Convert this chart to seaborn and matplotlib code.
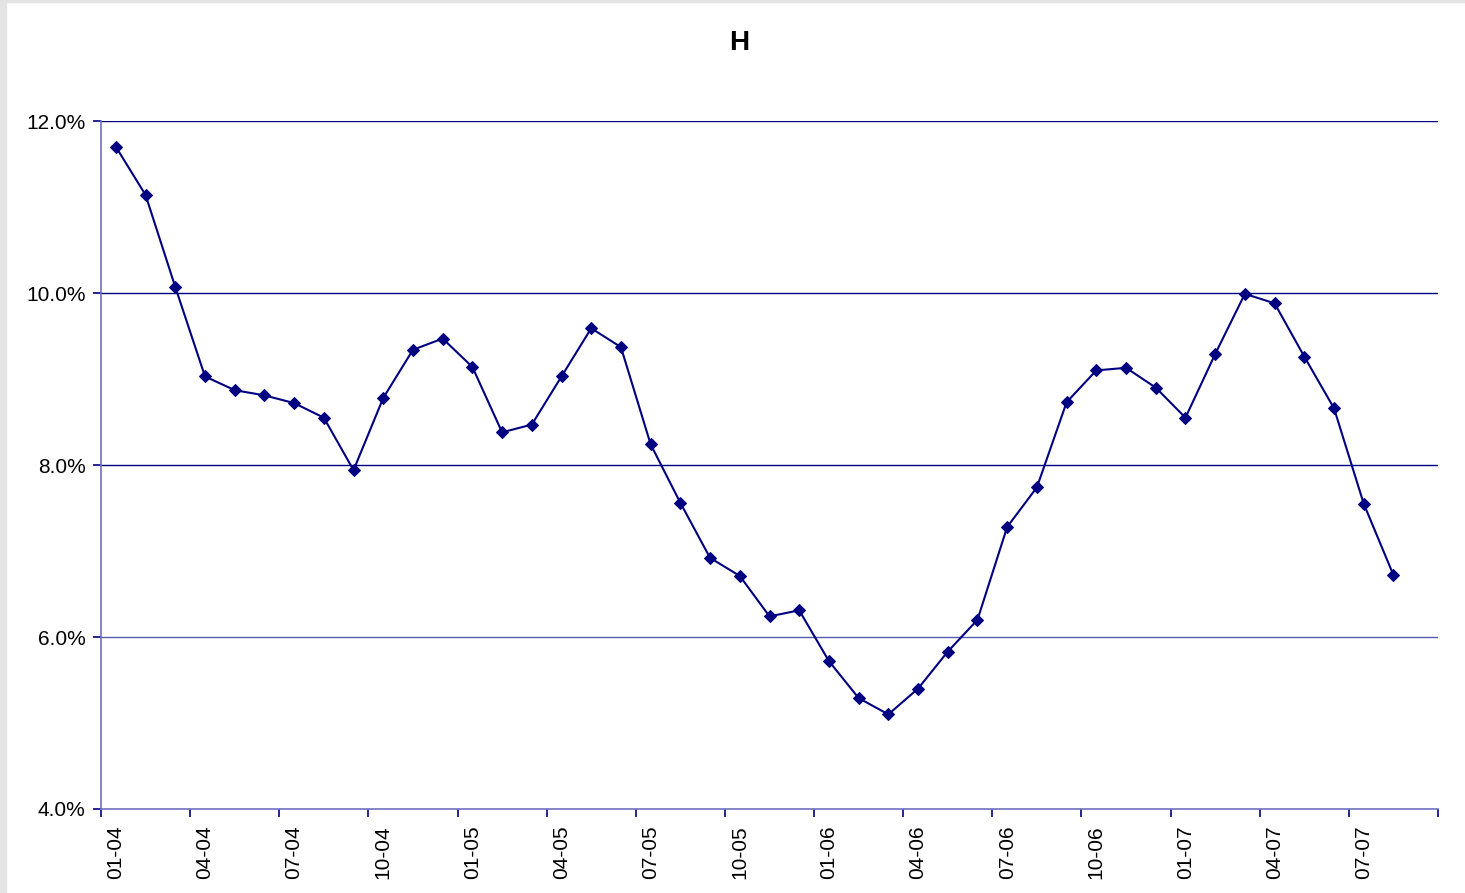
import numpy as np
import pandas as pd
import matplotlib
matplotlib.use("Agg")
import matplotlib.pyplot as plt
from matplotlib.ticker import FixedLocator, PercentFormatter
import seaborn as sns

sns.set_style("white", {"xtick.bottom": True, "ytick.left": True,
                        "text.color": "black", "xtick.color": "black",
                        "ytick.color": "black"})
plt.rcParams['font.family'] = ['Liberation Sans', 'DejaVu Sans']

# monthly values, 01-04 .. 08-07 (axis runs to 09-07)
months = [f"{m:02d}-{y:02d}" for y in (4, 5, 6, 7) for m in range(1, 13)][:45]
values = [11.70, 11.14, 10.07, 9.03, 8.87, 8.81, 8.72, 8.55, 7.94, 8.78,
          9.34, 9.47, 9.14, 8.38, 8.47, 9.03, 9.59, 9.37, 8.24, 7.56,
          6.92, 6.71, 6.24, 6.31, 5.72, 5.29, 5.10, 5.40, 5.83, 6.20,
          7.28, 7.74, 8.73, 9.10, 9.13, 8.90, 8.55, 9.29, 9.99, 9.88,
          9.26, 8.66, 7.55, 6.72]

df = pd.DataFrame({"pos": np.arange(len(values)), "rate": values})

navy = "#000080"
axis_col = "#6f6fc0"

fig = plt.figure(figsize=(14.65, 8.93), dpi=100)
fig.patches.append(plt.Rectangle((0, 0), 6 / 1465, 1, transform=fig.transFigure,
                                 color="#e4e4e4", zorder=0))
fig.patches.append(plt.Rectangle((0, 1 - 2 / 893), 1, 2 / 893, transform=fig.transFigure,
                                 color="#e4e4e4", zorder=0))
ax = fig.add_axes([101 / 1465, 1 - 809 / 893, (1438 - 101) / 1465, (809 - 121) / 893])

for yv in (6, 8, 10, 12):
    ax.axhline(yv, color=navy if yv != 6 else "#5a5ab4", lw=1.0, zorder=1)

sns.lineplot(data=df, x="pos", y="rate", ax=ax, color=navy, lw=1.5,
             marker="D", markersize=6, markeredgecolor=navy, zorder=3)

ax.set_xlim(-0.5, len(months) - 0.5)
ax.set_ylim(4, 12)
ax.yaxis.set_major_locator(FixedLocator([4, 6, 8, 10, 12]))
ax.yaxis.set_major_formatter(PercentFormatter(decimals=1))

ax.set_xticks(np.arange(0, len(months), 3))
ax.set_xticklabels(months[::3], rotation=90, fontsize=15)
ax.set_xticks(np.arange(-0.5, len(months), 3), minor=True)
ax.tick_params(axis='x', which='major', length=0, pad=12)
ax.tick_params(axis='x', which='minor', bottom=True, length=6, width=1.2,
               color=navy, direction='out')
ax.tick_params(axis='y', left=True, length=6, width=1.2, color=navy,
               direction='out', labelsize=15, pad=5)

for s in ("top", "right"):
    ax.spines[s].set_visible(False)
for s in ("left", "bottom"):
    ax.spines[s].set_color(axis_col)
    ax.spines[s].set_linewidth(1.2)
ax.set_xlabel("")
ax.set_ylabel("")

fig.text(739 / 1465, 1 - 43 / 893, "H", ha="center", va="center",
         fontsize=20, fontweight="bold", color="black")

plt.savefig("out.png", dpi=100)
plt.close()
